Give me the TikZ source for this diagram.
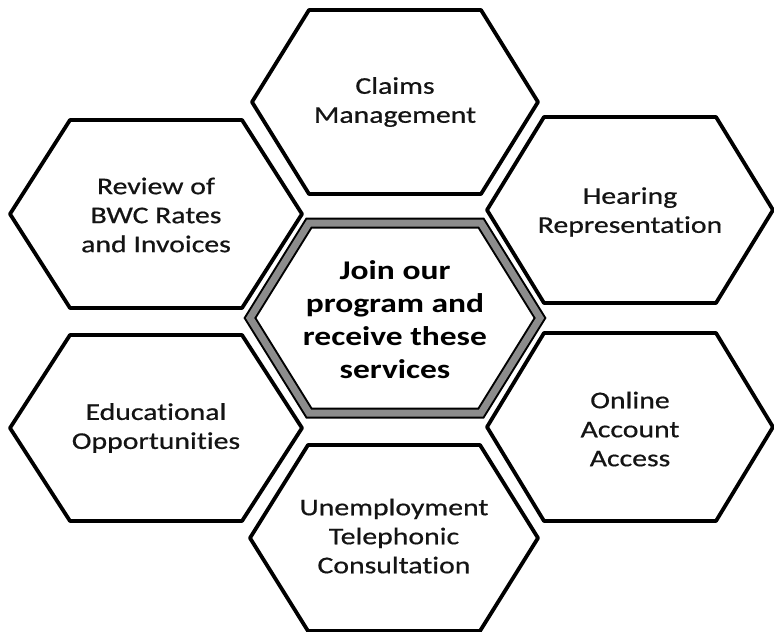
\documentclass[tikz,border=0pt]{standalone}
\usepackage{fontspec}
\usetikzlibrary{calc}
\newfontfamily\hexfont[FakeStretch=1.24, Ligatures=NoCommon, FakeBold=0.6]{Carlito}
\newfontfamily\hexboldfont[FakeStretch=1.24, Ligatures=NoCommon]{Carlito Bold}
\newcommand{\myhex}[5]{%
  \draw[#1] ($(#2)+(-#3,0)$) -- ($(#2)+(-86,#5)$) -- ($(#2)+(86,#5)$) --
    ($(#2)+(#3,0)$) -- ($(#2)+(86,-#5)$) -- ($(#2)+(-86,-#5)$) -- cycle;}
\tikzset{
  hexline/.style={line width=3.8pt, draw=black, line join=round},
  hexlabel/.style={align=center, text=black!92, font={\hexfont\fontsize{24}{29}\selectfont}},
  centerlabel/.style={align=center, text=black, font={\hexboldfont\fontsize{27}{33}\selectfont}},
}
\begin{document}
\begin{tikzpicture}[x=1pt,y=1pt]
\useasboundingbox (0,0) rectangle (774,-632);
\fill[white] (0,0) rectangle (774,-632);
% node centres
\coordinate (pc) at (395,-318);
\coordinate (pt) at (395,-102);
\coordinate (plt) at (156,-214);
\coordinate (prt) at (630,-210);
\coordinate (plb) at (156,-428);
\coordinate (prb) at (630,-427);
\coordinate (pb) at (394,-538);
% hexagons
\myhex{hexline}{pt}{143}{0}{92}
\myhex{hexline}{plt}{146}{0}{94}
\myhex{hexline}{prt}{143}{0}{93}
\myhex{hexline}{plb}{146}{0}{93}
\myhex{hexline}{prb}{143}{0}{94}
\myhex{hexline}{pb}{144}{0}{93}
\myhex{line width=11pt, draw=black, line join=miter}{pc}{145}{0}{95}
\myhex{line width=7pt, draw=black!45, line join=miter}{pc}{145}{0}{95}
% labels
\node[centerlabel] (c) at ($(pc)+(0,-2)$) {Join our\\program and\\receive these\\services};
\node[hexlabel] (t) at (pt) {Claims\\Management};
\node[hexlabel] (lt) at ($(plt)+(0,-1)$) {Review of\\BWC Rates\\and Invoices};
\node[hexlabel] (rt) at ($(prt)+(0,-2)$) {Hearing\\Representation};
\node[hexlabel] (lb) at (plb) {Educational\\Opportunities};
\node[hexlabel] (rb) at ($(prb)+(0,-2)$) {Online\\Account\\Access};
\node[hexlabel] (b) at ($(pb)+(0,2)$) {Unemployment\\Telephonic\\Consultation};
\end{tikzpicture}
\end{document}
